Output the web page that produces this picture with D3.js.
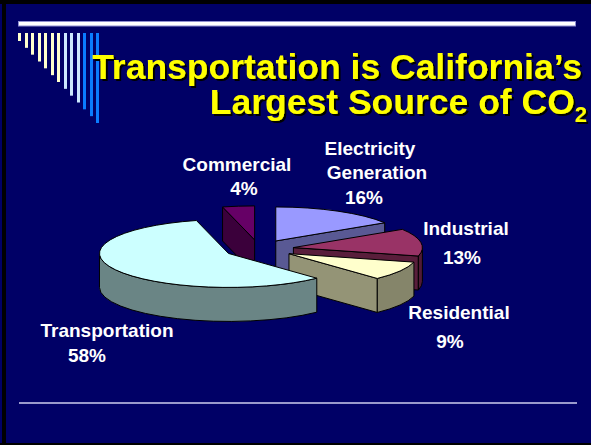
<!DOCTYPE html>
<html>
<head>
<meta charset="utf-8">
<script src="https://d3js.org/d3.v7.min.js"></script>
<style>
  body { margin: 0; background: #000066; }
  svg { display: block; }
</style>
</head>
<body>
<script>
  // data
  const categories = ["Electricity Generation", "Industrial", "Residential", "Transportation", "Commercial"];
  const shares = [16, 13, 9, 58, 4];
  const sliceColors = ["#9999ff", "#993366", "#ffffcc", "#ccffff", "#660066"];
  const labelLines = [["Electricity", "Generation"], ["Industrial"], ["Residential"], ["Transportation"], ["Commercial"]];
  const titleLines = ["Transportation is California\u2019s", "Largest Source of CO"];

  // label placement (x per line, baseline per line)
  const labelPos = [
    { xs: [370, 377, 364], ys: [155, 179, 204] },
    { xs: [466, 462], ys: [235, 264] },
    { xs: [459, 450], ys: [319, 348] },
    { xs: [107, 87], ys: [337, 362] },
    { xs: [237, 244], ys: [171, 195] }
  ];

  const width = 591, height = 445;
  const font = "'Liberation Sans', Arial, sans-serif";

  const svg = d3.select("body").append("svg")
    .attr("width", width)
    .attr("height", height);

  // hard black shadow for the title
  svg.append("defs").append("filter")
    .attr("id", "shadow")
    .attr("x", "-5%").attr("y", "-20%").attr("width", "110%").attr("height", "140%")
    .append("feDropShadow")
    .attr("dx", 2).attr("dy", 2)
    .attr("stdDeviation", 0)
    .attr("flood-color", "#000")
    .attr("flood-opacity", 1);

  // slide background + border
  svg.append("rect").attr("width", width).attr("height", height).attr("fill", "#000066");
  svg.append("rect").attr("x", 0).attr("y", 0).attr("width", width).attr("height", 4).attr("fill", "#000");
  svg.append("rect").attr("x", 2).attr("y", 0).attr("width", 4).attr("height", height).attr("fill", "#000");
  svg.append("rect").attr("x", 0).attr("y", height - 2).attr("width", width).attr("height", 2).attr("fill", "#000");

  // top and bottom rules
  svg.append("rect").attr("x", 18.5).attr("y", 21.5).attr("width", 557).attr("height", 4.5)
    .attr("fill", "#ffffff").attr("stroke", "#8f8fd0").attr("stroke-width", 1);
  svg.append("rect").attr("x", 19).attr("y", 402).attr("width", 558).attr("height", 2)
    .attr("fill", "#9a9acc");

  // decorative bars in the corner
  const barColors = d3.range(13).map(i => i < 7 ? "#ffffcc" : i < 10 ? "#cce8ff" : "#0a7cff");
  const barX = d3.scaleLinear().domain([0, 12]).range([18, 96]);
  const barLen = d3.scaleLinear().domain([0, 12]).range([8, 90]);
  svg.selectAll("rect.deco")
    .data(barColors)
    .enter().append("rect")
    .attr("class", "deco")
    .attr("x", (d, i) => Math.round(barX(i)))
    .attr("y", 33)
    .attr("width", 3)
    .attr("height", (d, i) => barLen(i))
    .attr("fill", d => d);

  // title
  const title = svg.append("g")
    .attr("font-family", font)
    .attr("font-weight", "bold")
    .attr("font-size", 35.5)
    .attr("text-anchor", "end")
    .attr("fill", "#ffff00")
    .attr("filter", "url(#shadow)");

  title.append("text")
    .attr("x", 582).attr("y", 79)
    .text(titleLines[0]);
  const t2 = title.append("text")
    .attr("x", 587).attr("y", 114);
  t2.append("tspan").text(titleLines[1]);
  t2.append("tspan").attr("font-size", 22).attr("dy", 8).text("2");

  // 3D pie
  const cx = 259, cy = 249, rx = 129, ry = 34, depth = 34, explode = 0.27;

  const pie = d3.pie().sort(null).value(d => d)
    .startAngle(0).endAngle(2 * Math.PI);
  const arcs = pie(shares);

  const slices = arcs.map((a, i) => {
    const mid = (a.startAngle + a.endAngle) / 2;
    const ox = cx + explode * rx * Math.sin(mid);
    const oy = cy - explode * ry * Math.cos(mid);
    const pt = (ang, dz = 0) => [ox + rx * Math.sin(ang), oy - ry * Math.cos(ang) + dz];
    // front-most y of top face, used for draw order
    let maxY = oy;
    [a.startAngle, a.endAngle].forEach(ang => { maxY = Math.max(maxY, pt(ang)[1]); });
    if (a.startAngle < Math.PI && a.endAngle > Math.PI) maxY = oy + ry;
    return { a, i, ox, oy, pt, maxY };
  });

  const shade = (c, k) => {
    const r = d3.rgb(c);
    return d3.rgb(r.r * k, r.g * k, r.b * k).formatHex();
  };

  const pieG = svg.append("g")
    .attr("stroke", "#000")
    .attr("stroke-width", 1)
    .attr("stroke-linejoin", "round");

  slices.slice().sort((p, q) => p.maxY - q.maxY).forEach(s => {
    const { a, i, ox, oy, pt } = s;
    const a0 = a.startAngle, a1 = a.endAngle;
    const g = pieG.append("g").attr("class", "slice");
    const side = shade(sliceColors[i], 0.58);

    // radial cut faces
    const face = ang => {
      const p = pt(ang), q = pt(ang, depth);
      return `M${ox},${oy}L${p}L${q}L${ox},${oy + depth}Z`;
    };
    if (Math.sin(a0) < -1e-6) g.append("path").attr("d", face(a0)).attr("fill", side);
    if (Math.sin(a1) > 1e-6) g.append("path").attr("d", face(a1)).attr("fill", side);

    // outer curved side (front half only)
    const s0 = Math.max(a0, Math.PI / 2), s1 = Math.min(a1, 3 * Math.PI / 2);
    if (s1 > s0) {
      const p0 = pt(s0), p1 = pt(s1), q0 = pt(s0, depth), q1 = pt(s1, depth);
      const big = s1 - s0 > Math.PI ? 1 : 0;
      g.append("path")
        .attr("d", `M${p0}A${rx},${ry} 0 ${big} 1 ${p1}L${q1}A${rx},${ry} 0 ${big} 0 ${q0}Z`)
        .attr("fill", shade(sliceColors[i], 0.52));
    }

    // top face
    const t0 = pt(a0), t1 = pt(a1);
    const big = a1 - a0 > Math.PI ? 1 : 0;
    g.append("path")
      .attr("d", `M${ox},${oy}L${t0}A${rx},${ry} 0 ${big} 1 ${t1}Z`)
      .attr("fill", sliceColors[i]);
  });

  // labels
  const labels = svg.append("g")
    .attr("font-family", font)
    .attr("font-weight", "bold")
    .attr("font-size", 19)
    .attr("fill", "#ffffff")
    .attr("text-anchor", "middle");

  categories.forEach((c, i) => {
    const lines = labelLines[i].concat([shares[i] + "%"]);
    lines.forEach((txt, j) => {
      labels.append("text")
        .attr("x", labelPos[i].xs[j])
        .attr("y", labelPos[i].ys[j])
        .text(txt);
    });
  });
</script>
</body>
</html>
